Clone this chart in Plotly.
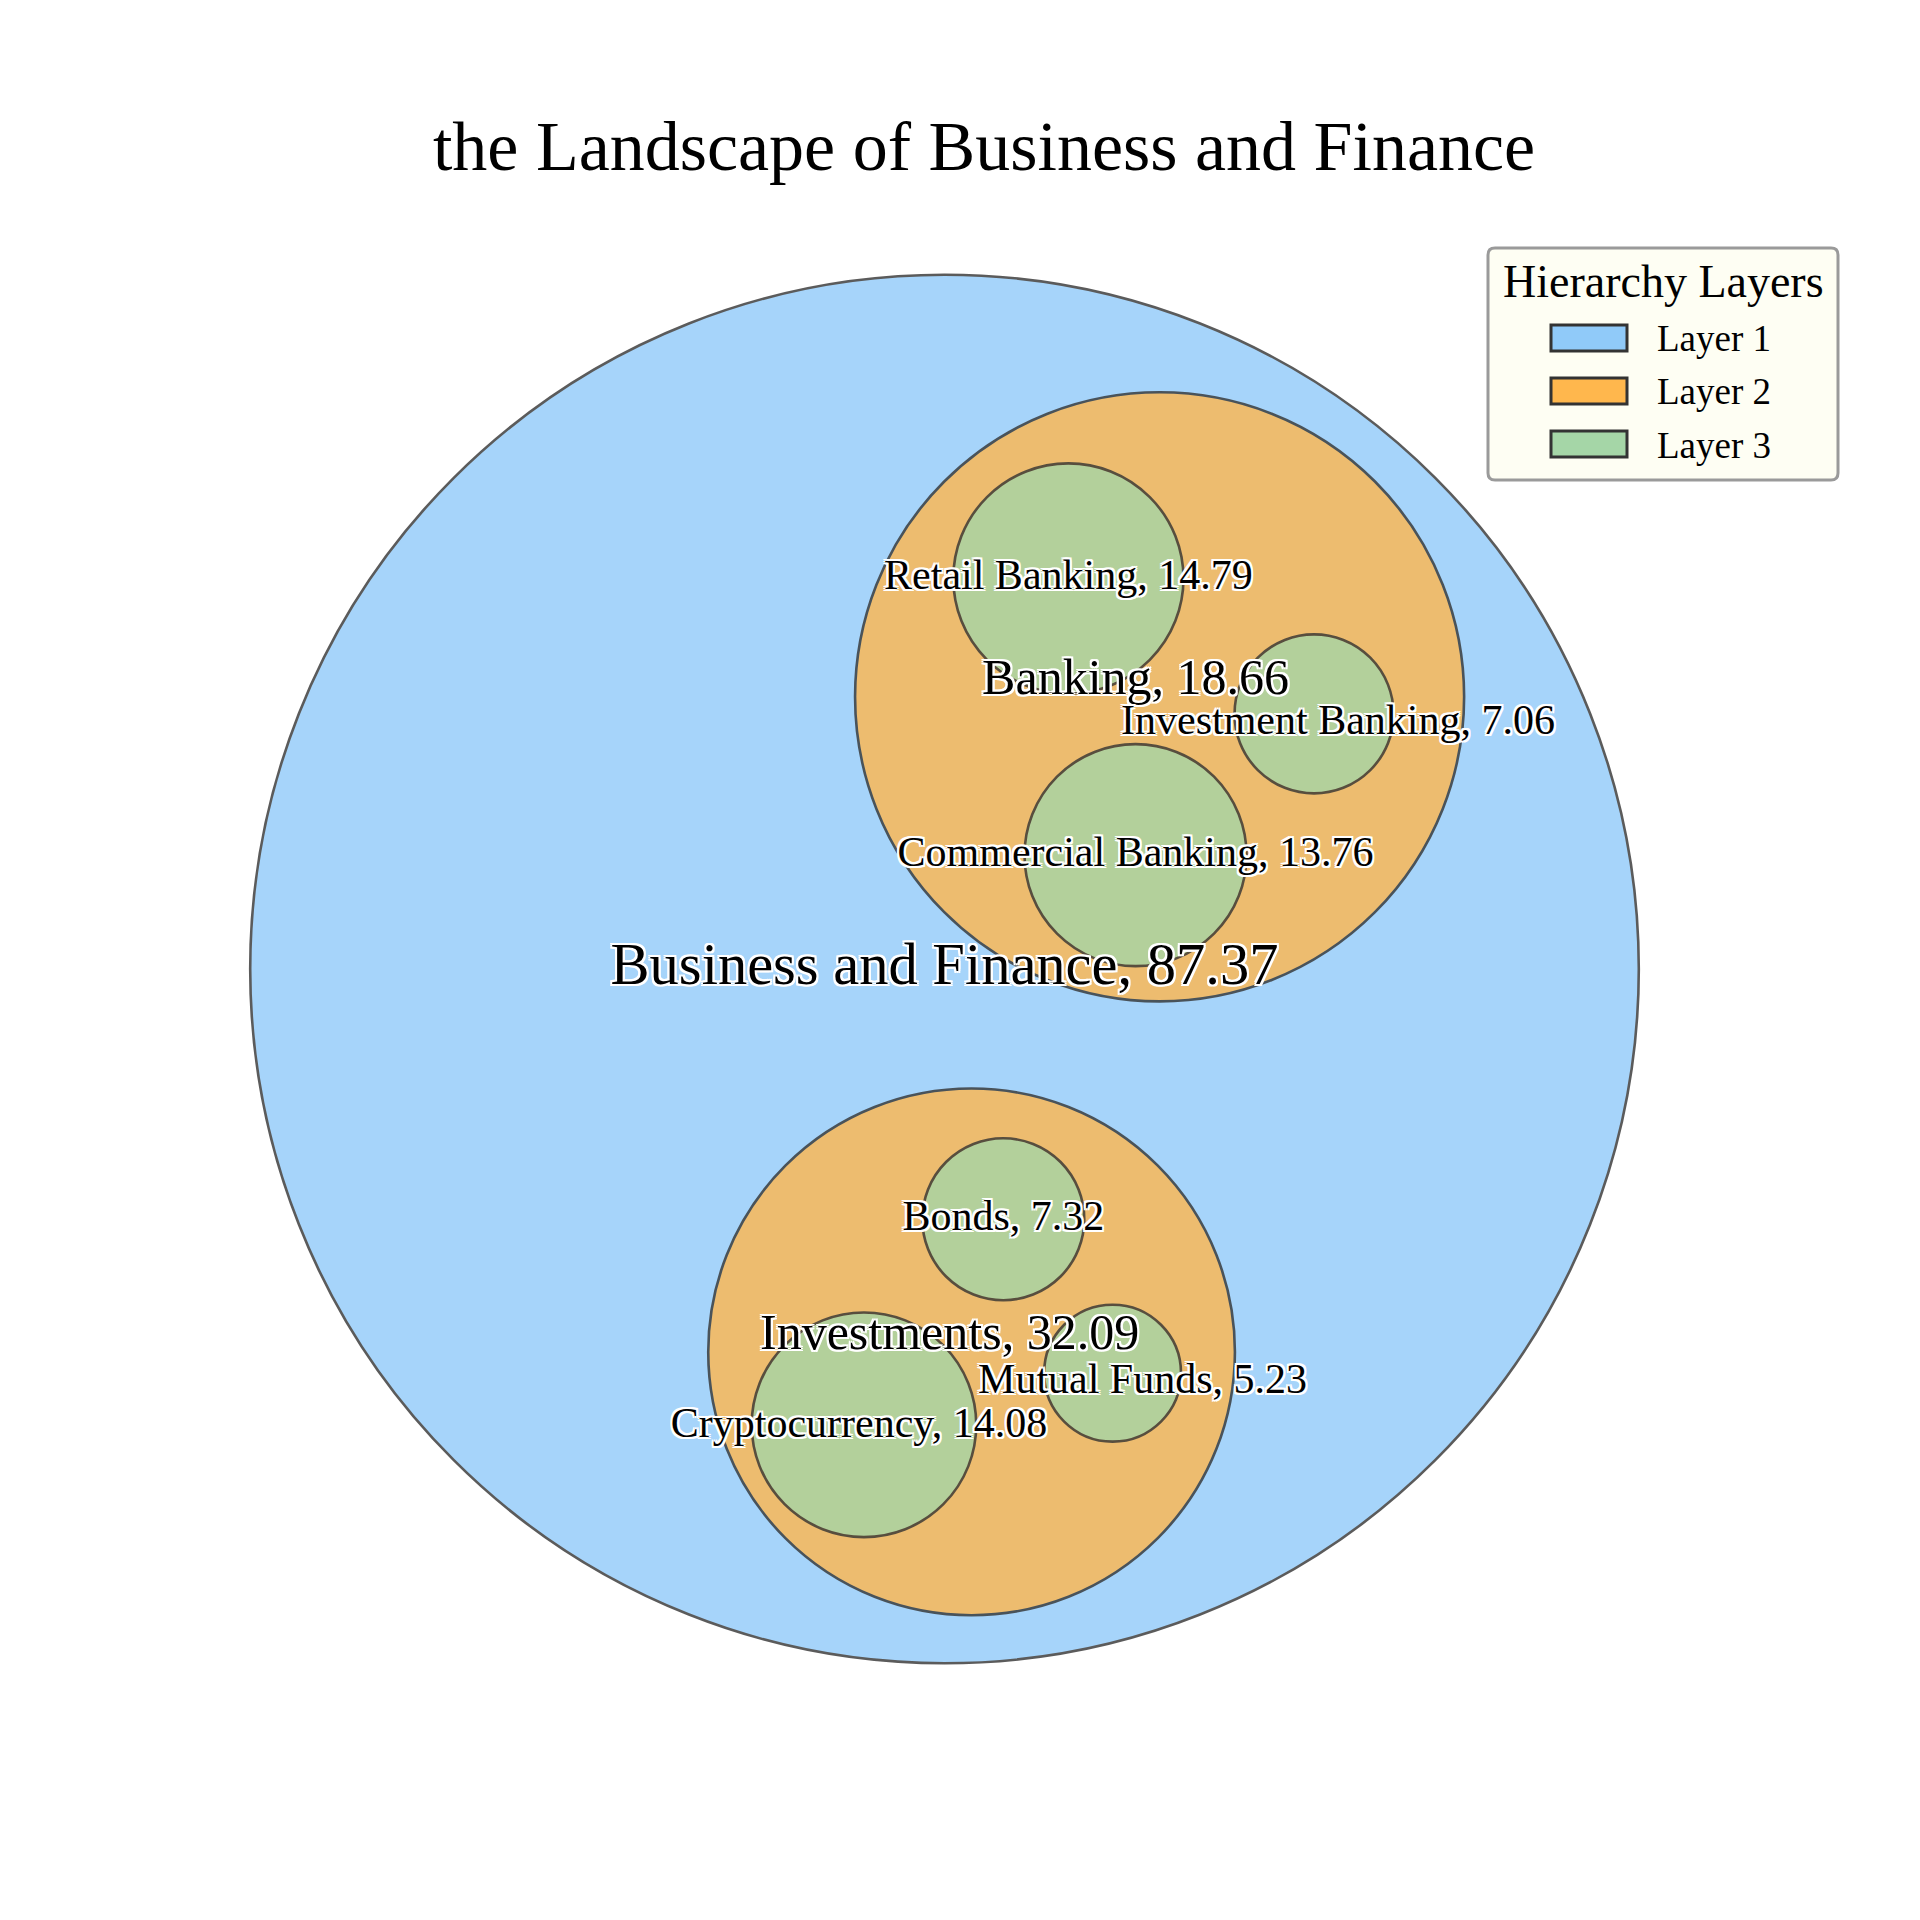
import numpy as np
import plotly.graph_objects as go

# ---------------- data ----------------
names = ["Business and Finance", "Banking", "Investments",
         "Retail Banking", "Investment Banking", "Commercial Banking",
         "Bonds", "Mutual Funds", "Cryptocurrency"]
values = [87.37, 18.66, 32.09, 14.79, 7.06, 13.76, 7.32, 5.23, 14.08]
parents = ["", "Business and Finance", "Business and Finance",
           "Banking", "Banking", "Banking",
           "Investments", "Investments", "Investments"]
layers = [1, 2, 2, 3, 3, 3, 3, 3, 3]

layer_names = ["Layer 1", "Layer 2", "Layer 3"]
layer_colors = ["#90CAF9", "#FFB74D", "#A5D6A7"]
chart_title = "the Landscape of Business and Finance"
legend_title = "Hierarchy Layers"

# ---------------- layout parameters (not data) ----------------
FONT = "Liberation Serif, Times New Roman, serif"
W = H = 1920
CX_PX, CY_PX, R_PX = 944.5, 969.0, 694.3          # outer circle placement on the page
RADIUS_SCALE = {2: 0.0735, 3: 0.0431}             # sqrt-size scale per layer (root = 1)
PLACEMENT = {                                      # child centre relative to parent, in parent radii
    "Banking": (0.3098, 0.392), "Investments": (0.039, -0.5515),
    "Retail Banking": (-0.2995, 0.3888), "Investment Banking": (0.5072, -0.056),
    "Commercial Banking": (-0.079, -0.5199),
    "Bonds": (0.1205, 0.5037), "Mutual Funds": (0.5354, -0.0807),
    "Cryptocurrency": (-0.4086, -0.2768),
}
LABEL_NUDGE_PX = {                                 # text repel offsets (px right, px down)
    "Banking": (-24, -15), "Investments": (-22, -15),
    "Investment Banking": (24, 10), "Mutual Funds": (30, 9), "Cryptocurrency": (-5, 2),
}
LABEL_SIZE = {1: 58.5, 2: 50, 3: 42}

# ---------------- hierarchy geometry ----------------
idx = {n: i for i, n in enumerate(names)}
children = {n: [c for c, p in zip(names, parents) if p == n] for n in names}


def size(n):
    ch = children[n]
    return values[idx[n]] if not ch else sum(size(c) for c in ch)


geom = {}


def place(n):
    i = idx[n]
    if parents[i] == "":
        geom[n] = (0.0, 0.0, 1.0)
    else:
        px, py, pr = geom[parents[i]]
        ox, oy = PLACEMENT[n]
        geom[n] = (px + ox * pr, py + oy * pr, RADIUS_SCALE[layers[i]] * np.sqrt(size(n)))
    for c in children[n]:
        place(c)


place(names[parents.index("")])

xr = [(0 - CX_PX) / R_PX, (W - CX_PX) / R_PX]
yr = [(CY_PX - H) / R_PX, CY_PX / R_PX]

fig = go.Figure()

shapes = []
for lay in (1, 2, 3):
    for n in names:
        i = idx[n]
        if layers[i] != lay:
            continue
        cx, cy, r = geom[n]
        shapes.append(dict(type="circle", xref="x", yref="y",
                           x0=cx - r, x1=cx + r, y0=cy - r, y1=cy + r,
                           fillcolor=layer_colors[lay - 1], opacity=0.8,
                           line=dict(color="#333333", width=2.6), layer="below"))

shadow = ", ".join(f"{dx}px {dy}px 0 #ffffff" for dx, dy in
                   [(-2, -2), (2, -2), (-2, 2), (2, 2), (0, 2), (0, -2), (2, 0), (-2, 0)])

for lay in (1, 2, 3):
    xs, ys, ts = [], [], []
    for n in names:
        i = idx[n]
        if layers[i] != lay:
            continue
        cx, cy, r = geom[n]
        dx, dy = LABEL_NUDGE_PX.get(n, (0, 0))
        xs.append(cx + dx / R_PX)
        ys.append(cy - dy / R_PX)
        ts.append(f"{n}, {values[i]:.2f}")
    fig.add_trace(go.Scatter(x=xs, y=ys, text=ts, mode="text", textposition="middle center",
                             textfont=dict(family=FONT, size=LABEL_SIZE[lay], color="#000000",
                                           shadow=shadow),
                             hoverinfo="skip", showlegend=False))

# ---------------- manual legend ----------------
def px2paper(x, y):
    return x / W, 1 - y / H

lx0, ly0, lx1, ly1, rad = 1488, 248, 1838, 480, 7
p = lambda x, y: "{:.5f},{:.5f}".format(*px2paper(x, y))
path = (f"M {p(lx0 + rad, ly0)} L {p(lx1 - rad, ly0)} Q {p(lx1, ly0)} {p(lx1, ly0 + rad)} "
        f"L {p(lx1, ly1 - rad)} Q {p(lx1, ly1)} {p(lx1 - rad, ly1)} "
        f"L {p(lx0 + rad, ly1)} Q {p(lx0, ly1)} {p(lx0, ly1 - rad)} "
        f"L {p(lx0, ly0 + rad)} Q {p(lx0, ly0)} {p(lx0 + rad, ly0)} Z")
shapes.append(dict(type="path", xref="paper", yref="paper", path=path,
                   fillcolor="#FEFEF3", line=dict(color="#9a9a9a", width=3), layer="above"))

annotations = [dict(xref="paper", yref="paper", x=1663 / W, y=1 - 282 / H, xanchor="center",
                    yanchor="middle", text=legend_title, showarrow=False,
                    font=dict(family=FONT, size=46, color="#000000"))]
row_y = [338, 391, 444]
for k, (lname, col) in enumerate(zip(layer_names, layer_colors)):
    yc = row_y[k]
    x0, y0 = px2paper(1551, yc - 13)
    x1, y1 = px2paper(1627, yc + 13)
    shapes.append(dict(type="rect", xref="paper", yref="paper", x0=x0, x1=x1, y0=y1, y1=y0,
                       fillcolor=col, line=dict(color="#333333", width=3), layer="above"))
    annotations.append(dict(xref="paper", yref="paper", x=1655 / W, y=1 - (yc + 1) / H,
                            xanchor="left", yanchor="middle", text=lname, showarrow=False,
                            font=dict(family=FONT, size=37, color="#000000")))

fig.update_layout(
    width=W, height=H, autosize=False,
    margin=dict(l=0, r=0, t=0, b=0, pad=0),
    paper_bgcolor="#ffffff", plot_bgcolor="#ffffff",
    xaxis=dict(range=xr, visible=False, fixedrange=True),
    yaxis=dict(range=yr, visible=False, fixedrange=True, scaleanchor="x", scaleratio=1),
    shapes=shapes, annotations=annotations,
    title=dict(text=chart_title, x=984 / W, xanchor="center", xref="paper",
               y=1 - 145 / H, yanchor="middle", yref="container",
               font=dict(family=FONT, size=70, color="#000000")),
    showlegend=False,
)

fig.write_html("out.html", post_script="document.body.style.margin='0';",
               config={"displayModeBar": False})
